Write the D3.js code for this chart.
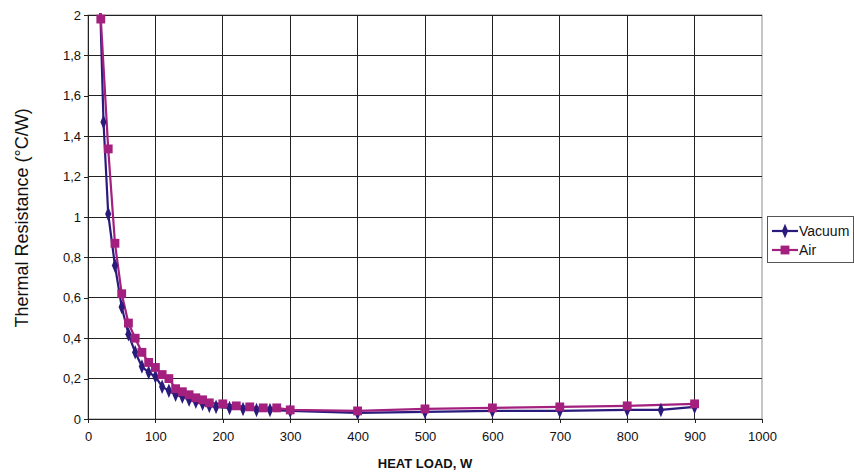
<!DOCTYPE html>
<html>
<head>
<meta charset="utf-8">
<script src="https://cdn.jsdelivr.net/npm/d3@7"></script>
<style>
  html, body { margin: 0; padding: 0; background: #fff; }
  svg { display: block; font-family: "Liberation Sans", Arial, sans-serif; }
</style>
</head>
<body>
<svg id="chart" width="854" height="474"></svg>
<script>
// Heat load (W) and thermal resistance (°C/W) for each test condition
const vacuumLoad = [15, 23, 30, 40, 50, 60, 70, 80, 90, 100, 110, 120, 130, 140, 150, 160, 170, 180, 190, 210, 230, 250, 270, 300, 400, 500, 600, 700, 800, 850, 900];
const vacuumRes  = [2.4, 1.47, 1.015, 0.76, 0.555, 0.42, 0.33, 0.26, 0.23, 0.21, 0.16, 0.14, 0.12, 0.11, 0.095, 0.085, 0.075, 0.065, 0.06, 0.055, 0.05, 0.045, 0.045, 0.04, 0.03, 0.035, 0.04, 0.04, 0.045, 0.045, 0.06];

const airLoad = [17, 19, 30, 40, 50, 60, 70, 80, 90, 100, 110, 120, 130, 140, 150, 160, 170, 180, 200, 220, 240, 260, 280, 300, 400, 500, 600, 700, 800, 900];
const airRes  = [3.5, 1.98, 1.337, 0.87, 0.62, 0.475, 0.40, 0.33, 0.28, 0.255, 0.22, 0.20, 0.15, 0.135, 0.12, 0.105, 0.095, 0.08, 0.075, 0.065, 0.06, 0.055, 0.055, 0.045, 0.04, 0.05, 0.055, 0.06, 0.065, 0.075];

const xTicks = [0, 100, 200, 300, 400, 500, 600, 700, 800, 900, 1000];
const yTicks = [0, 0.2, 0.4, 0.6, 0.8, 1, 1.2, 1.4, 1.6, 1.8, 2];

const seriesNames = ["Vacuum", "Air"];
const seriesColors = ["#2a1a7c", "#a3207f"];

const svg = d3.select("#chart");
const plot = { left: 88, right: 762, top: 15, bottom: 419 };

const x = d3.scaleLinear().domain([0, 1000]).range([plot.left, plot.right]);
const y = d3.scaleLinear().domain([0, 2]).range([plot.bottom, plot.top]);

const fmt = d => String(+d.toFixed(1)).replace(".", ",");

// plot frame
svg.append("rect")
  .attr("x", plot.left).attr("y", plot.top)
  .attr("width", plot.right - plot.left).attr("height", plot.bottom - plot.top)
  .attr("fill", "#fff").attr("stroke", "#8c8c8c").attr("stroke-width", 1);

// gridlines
const grid = svg.append("g").attr("stroke", "#222").attr("stroke-width", 1).attr("shape-rendering", "crispEdges");
grid.selectAll(".hg").data(yTicks.filter(d => d > 0)).join("line")
  .attr("x1", plot.left).attr("x2", plot.right)
  .attr("y1", d => y(d)).attr("y2", d => y(d));
grid.selectAll(".vg").data(xTicks.filter(d => d > 0 && d < 1000)).join("line")
  .attr("x1", d => x(d)).attr("x2", d => x(d))
  .attr("y1", plot.top).attr("y2", plot.bottom);

// axes
const xAxis = svg.append("g")
  .attr("transform", `translate(0,${plot.bottom})`)
  .call(d3.axisBottom(x).tickValues(xTicks).tickSize(4).tickPadding(9).tickFormat(d3.format("d")));
const yAxis = svg.append("g")
  .attr("transform", `translate(${plot.left},0)`)
  .call(d3.axisLeft(y).tickValues(yTicks).tickSize(4).tickPadding(3).tickFormat(fmt));
[xAxis, yAxis].forEach(a => {
  a.select(".domain").attr("stroke", "#222").attr("shape-rendering", "crispEdges");
  a.selectAll(".tick line").attr("stroke", "#222").attr("shape-rendering", "crispEdges");
  a.selectAll("text").attr("fill", "#111").style("font-size", "13px").style("font-family", "'Liberation Sans', Arial, sans-serif");
});

// axis titles
svg.append("text")
  .attr("x", (plot.left + plot.right) / 2).attr("y", 468)
  .attr("text-anchor", "middle").attr("font-weight", "bold").attr("font-size", "13px").attr("fill", "#111")
  .text("HEAT LOAD, W");
svg.append("text")
  .attr("transform", `translate(28,${(plot.top + plot.bottom) / 2 + 1}) rotate(-90)`)
  .attr("text-anchor", "middle").attr("font-size", "18px").attr("fill", "#111")
  .text("Thermal Resistance (°C/W)");

// series
svg.append("defs").append("clipPath").attr("id", "plotClip")
  .append("rect").attr("x", plot.left).attr("y", plot.top - 2)
  .attr("width", plot.right - plot.left).attr("height", plot.bottom - plot.top + 6);

const series = [
  { name: seriesNames[0], color: seriesColors[0], shape: d3.symbolDiamond, size: 46,
    pts: vacuumLoad.map((v, i) => [v, vacuumRes[i]]) },
  { name: seriesNames[1], color: seriesColors[1], shape: d3.symbolSquare, size: 78,
    pts: airLoad.map((v, i) => [v, airRes[i]]) }
];

const line = d3.line().x(d => x(d[0])).y(d => y(d[1]));
const layer = svg.append("g").attr("clip-path", "url(#plotClip)");

series.forEach(s => {
  layer.append("path").datum(s.pts)
    .attr("fill", "none").attr("stroke", s.color).attr("stroke-width", 2.2).attr("d", line);
});
series.forEach(s => {
  layer.selectAll(null).data(s.pts.filter(d => d[1] <= 2.02)).join("path")
    .attr("transform", d => `translate(${x(d[0])},${y(d[1])})` + (s.shape === d3.symbolDiamond ? " scale(0.85,1.15)" : ""))
    .attr("d", d3.symbol().type(s.shape).size(s.size))
    .attr("fill", s.color);
});

// legend
const lg = svg.append("g").attr("transform", "translate(767,216)");
lg.append("rect").attr("x", 0).attr("y", 0).attr("width", 86).attr("height", 46)
  .attr("fill", "#fff").attr("stroke", "#555").attr("stroke-width", 1).attr("shape-rendering", "crispEdges");
series.forEach((s, i) => {
  const cy = 15 + i * 19;
  lg.append("line").attr("x1", 5).attr("x2", 31).attr("y1", cy).attr("y2", cy)
    .attr("stroke", s.color).attr("stroke-width", 2.2);
  lg.append("path")
    .attr("transform", `translate(18,${cy})` + (s.shape === d3.symbolDiamond ? " scale(0.85,1.15)" : ""))
    .attr("d", d3.symbol().type(s.shape).size(s.size)).attr("fill", s.color);
  lg.append("text").attr("x", 32).attr("y", cy + 5)
    .attr("font-size", "14px").attr("fill", "#111").text(s.name);
});
</script>
</body>
</html>
